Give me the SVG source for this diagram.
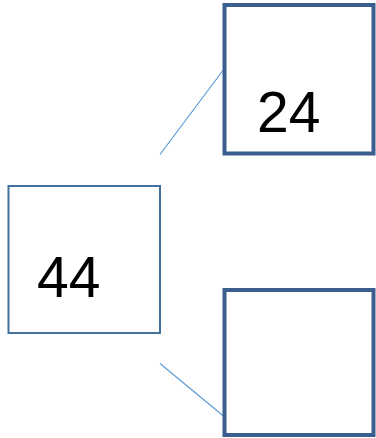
<svg xmlns="http://www.w3.org/2000/svg" width="376" height="438" viewBox="0 0 376 438">
<style>
.thin{fill:#fff;stroke:#41719C;stroke-width:2}
.thick{fill:#fff;stroke:#3A5F8F;stroke-width:4}
.lbl{font-family:"Liberation Sans",Arial,sans-serif;font-size:57px;fill:#000}
.conn{stroke:#5B9BD5;stroke-width:1.2;fill:none}
</style>
<rect width="376" height="438" fill="#fff"/>
<g id="connectors">
<line class="conn" x1="160" y1="154.5" x2="224" y2="69"/>
<line class="conn" x1="160" y1="363.5" x2="224" y2="416.5"/>
</g>
<g id="node44">
<rect class="thin" x="8.5" y="186" width="151.5" height="147"/>
<text class="lbl" x="37" y="297">44</text>
</g>
<g id="node24">
<rect class="thick" x="224.5" y="5" width="149" height="148.5"/>
<text class="lbl" x="257" y="132">24</text>
</g>
<g id="nodeEmpty">
<rect class="thick" x="224.5" y="290" width="149" height="145"/>
</g>
</svg>
